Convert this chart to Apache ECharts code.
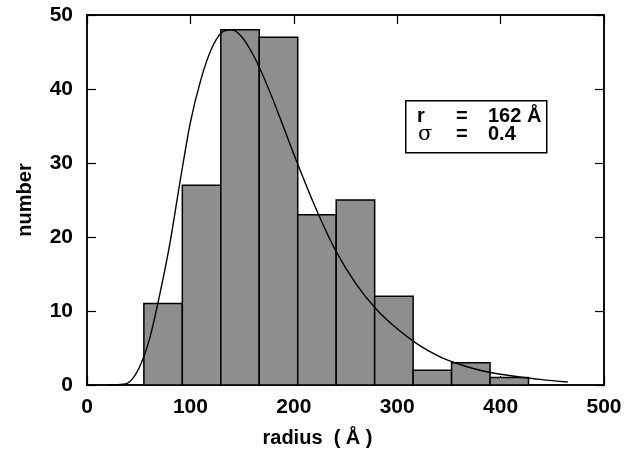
<!DOCTYPE html>
<html>
<head>
<meta charset="utf-8">
<script src="https://cdn.jsdelivr.net/npm/echarts@6/dist/echarts.min.js"></script>
<style>
  html, body { margin: 0; padding: 0; background: #fff; }
  #chart { width: 636px; height: 454px; }
</style>
</head>
<body>
<div id="chart"></div>
<script>
// histogram bins (radius, Å) and counts
var binEdges = [55, 92.2, 129.4, 166.6, 203.8, 241, 278.2, 315.4, 352.6, 389.8, 427];
var counts = [11, 27, 48, 47, 23, 25, 12, 2, 3, 1];

// fitted curve
var curveR = [20, 30, 40, 50, 60, 70, 80, 90, 100, 110, 120, 130, 140, 150, 160, 170, 180, 190, 200,
  220, 240, 260, 280, 300, 320, 340, 360, 380, 400, 420, 440, 465];
var curveN = [0, 0.05, 0.3, 2.2, 6.0, 12, 19, 27.5, 35.5, 41.2, 45.3, 47.6, 48, 47, 44.8, 41.9, 38.5, 34.9, 31.2,
  24.3, 18.3, 13.7, 10.2, 7.6, 5.5, 3.9, 2.8, 2.0, 1.45, 1.05, 0.72, 0.4];

var xTicks = [0, 100, 200, 300, 400, 500];
var yTicks = [0, 10, 20, 30, 40, 50];

var bins = [];
for (var i = 0; i < counts.length; i++) {
  bins.push([binEdges[i], binEdges[i + 1], counts[i]]);
}
var curve = [];
for (var j = 0; j < curveR.length; j++) {
  curve.push([curveR[j], curveN[j]]);
}

var font = 'Liberation Sans, Arial, Helvetica, sans-serif';
var lbl = { show: true, color: '#000', fontFamily: font, fontWeight: 'bold', fontSize: 21 };
var nameStyle = { color: '#000', fontFamily: font, fontWeight: 'bold', fontSize: 20 };
var axLine = { show: true, onZero: false, lineStyle: { color: '#000', width: 1.5 } };
var tick = { show: true, inside: true, length: 9, lineStyle: { color: '#000', width: 1.2 } };

var myChart = echarts.init(document.getElementById('chart'));
var option = {
  animation: false,
  grid: { left: 87, right: 32, top: 15, bottom: 69, show: true, borderColor: '#000', borderWidth: 1.5 },
  xAxis: [
    {
      type: 'value', position: 'bottom', min: xTicks[0], max: xTicks[xTicks.length - 1], interval: 100,
      name: 'radius  ( Å )', nameLocation: 'middle', nameGap: 43,
      nameTextStyle: Object.assign({ padding: [0, 56, 0, 0] }, nameStyle),
      axisLine: axLine,
      axisTick: tick,
      axisLabel: Object.assign({ margin: 12 }, lbl),
      splitLine: { show: false }
    },
    {
      type: 'value', position: 'top', min: xTicks[0], max: xTicks[xTicks.length - 1], interval: 100,
      axisLine: axLine,
      axisTick: tick,
      axisLabel: { show: false },
      splitLine: { show: false }
    }
  ],
  yAxis: [
    {
      type: 'value', position: 'left', min: yTicks[0], max: yTicks[yTicks.length - 1], interval: 10,
      name: 'number', nameLocation: 'middle', nameGap: 52,
      nameTextStyle: nameStyle,
      axisLine: axLine,
      axisTick: tick,
      axisLabel: Object.assign({ margin: 14 }, lbl),
      splitLine: { show: false }
    },
    {
      type: 'value', position: 'right', min: yTicks[0], max: yTicks[yTicks.length - 1], interval: 10,
      axisLine: axLine,
      axisTick: tick,
      axisLabel: { show: false },
      splitLine: { show: false }
    }
  ],
  series: [
    {
      type: 'custom',
      data: bins,
      encode: { x: [0, 1], y: 2 },
      renderItem: function (params, api) {
        var p0 = api.coord([api.value(0), api.value(2)]);
        var p1 = api.coord([api.value(1), 0]);
        return {
          type: 'rect',
          shape: { x: p0[0], y: p0[1], width: p1[0] - p0[0], height: p1[1] - p0[1] },
          style: { fill: '#8e8e8e', stroke: '#000', lineWidth: 1.5 }
        };
      },
      z: 2
    },
    {
      type: 'line',
      data: curve,
      smooth: 0.3,
      showSymbol: false,
      lineStyle: { color: '#000', width: 1.4 },
      z: 3
    }
  ],
  graphic: [
    {
      type: 'rect', left: 405, top: 100, z: 10,
      shape: { width: 141, height: 52 },
      style: { fill: '#fff', stroke: '#000', lineWidth: 1.5 }
    },
    { type: 'text', left: 417, top: 106, z: 11, style: { text: 'r', fill: '#000', font: 'bold 20px ' + font } },
    { type: 'text', left: 456, top: 106, z: 11, style: { text: '=', fill: '#000', font: 'bold 20px ' + font } },
    { type: 'text', left: 488, top: 106, z: 11, style: { text: '162 Å', fill: '#000', font: 'bold 20px ' + font } },
    { type: 'text', left: 418, top: 124, z: 11, style: { text: 'σ', fill: '#000', font: '21px DejaVu Serif, serif' } },
    { type: 'text', left: 456, top: 124, z: 11, style: { text: '=', fill: '#000', font: 'bold 20px ' + font } },
    { type: 'text', left: 488, top: 124, z: 11, style: { text: '0.4', fill: '#000', font: 'bold 20px ' + font } }
  ]
};
myChart.setOption(option);
</script>
</body>
</html>
